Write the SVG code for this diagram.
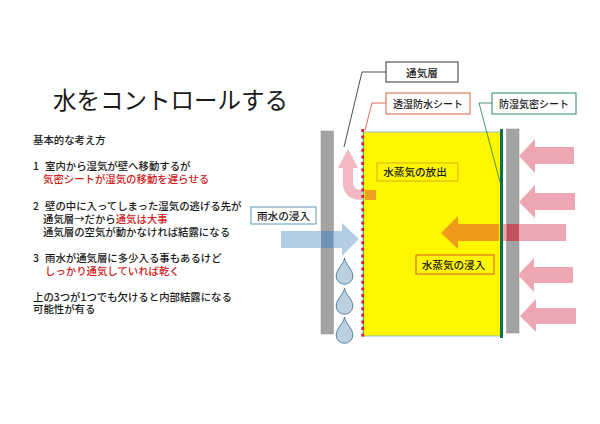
<svg xmlns="http://www.w3.org/2000/svg" width="600" height="424" viewBox="0 0 600 424">
<style>
text{font-family:"Noto Sans CJK JP","Noto Sans",sans-serif;font-size:10.4px;font-weight:500;fill:#1a1a1a}
.r{fill:#d0211c}
.lb{font-size:10.6px;text-anchor:middle}
.b{fill:#fff;stroke-width:1}
.wall{fill:#a3a3a3;stroke:#8f8f8f;stroke-width:.5}
.pink{fill:#eea6b3}
.drop{fill:#bcd0e2;stroke:#2f6a8c;stroke-width:.8}
.ln{fill:none;stroke-width:.8}
</style>
<defs><path id="d" d="M0 -16C1 -9 8.300 -5 8.300 2A8.300 8.300 0 0 1 -8.300 2C-8.300 -5 -1 -9 0 -16Z"/></defs>
<rect width="600" height="424" fill="#fff"/>
<g id="text">
<text x="53" y="109" style="font-size:23.500px;font-weight:400">水をコントロールする</text>
<text x="33" y="144">基本的な考え方</text>
<text x="33" y="170">1</text><text x="45" y="170">室内から湿気が壁へ移動するが</text>
<text x="43" y="183" class="r">気密シートが湿気の移動を遅らせる</text>
<text x="33" y="210">2</text><text x="45" y="210">壁の中に入ってしまった湿気の逃げる先が</text>
<text x="43" y="223">通気層→だから<tspan class="r">通気は大事</tspan></text>
<text x="43" y="236">通気層の空気が動かなければ結露になる</text>
<text x="33" y="262">3</text><text x="45" y="262">雨水が通気層に多少入る事もあるけど</text>
<text x="45" y="275" class="r">しっかり通気していれば乾く</text>
<text x="33" y="301">上の3つが1つでも欠けると内部結露になる</text>
<text x="33" y="313">可能性が有る</text>
</g>
<g id="yellow-layer"><rect x="363" y="132" width="138" height="204" fill="#fff700" stroke="#7fb0d0" stroke-width=".8"/></g>
<g id="wall-left"><rect class="wall" x="321" y="131" width="12.500" height="203"/></g>
<g id="wall-right"><rect class="wall" x="506.500" y="129" width="12.500" height="204"/></g>
<g id="arrow-up"><path fill="#f4b8c3" d="M348 149L358 168H353V182C353 187 356 190 362 190V200C350 200 343 194 343 183V168H338Z"/><rect x="365" y="190" width="11" height="10" fill="#ef9f1f"/></g>
<g id="pink-arrows">
<path class="pink" d="M574 147H535V139L519 156L535 173V164H574Z"/>
<path class="pink" d="M575 193H535V185L519 202L535 218V210H575Z"/>
<rect class="pink" x="503" y="224" width="63" height="17"/>
<path class="pink" d="M573 267H534V258L518 275L534 292V283H573Z"/>
<path class="pink" d="M576 308H536V299L520 316L536 332V324H576Z"/>
</g>
<g id="orange-arrow"><path fill="#ef9a1a" d="M499 224H458V216L441 233L458 249V241H499Z"/><rect x="506.500" y="224" width="12.500" height="17" fill="#c0525c"/></g>
<g id="rain-arrow"><path fill="#b5cde3" d="M281 231H342V223L359 239L342 256V248H281Z"/><rect x="321" y="231" width="12.500" height="17" fill="#6f93b5"/></g>
<g id="drops" class="drop">
<use href="#d" x="344.500" y="274"/><use href="#d" x="344.500" y="304"/><use href="#d" x="344.500" y="333"/>
</g>
<g id="sheet-green"><rect x="500" y="129" width="3" height="209" fill="#0e6e50"/></g>
<g id="sheet-red"><line x1="363.500" y1="130" x2="363.500" y2="337" stroke="#3a9a70" stroke-width=".8"/><line x1="362.700" y1="129" x2="362.700" y2="337" stroke="#e21f26" stroke-width="2.800" stroke-dasharray="3 3.600"/></g>
<g id="connectors">
<path class="ln" stroke="#222" d="M386 72H362L344 147"/>
<path class="ln" stroke="#d8442c" d="M386 103H372L365 130"/>
<path class="ln" stroke="#1e7a50" d="M492 103H479L500 182"/>
</g>
<g id="n-vent"><rect class="b" stroke="#333" x="386" y="62" width="72" height="20"/><text class="lb" x="422" y="76.500">通気層</text></g>
<g id="n-breather"><rect class="b" stroke="#d8603c" x="386" y="93" width="84" height="21"/><text class="lb" x="428" y="107.500" style="font-size:10px">透湿防水シート</text></g>
<g id="n-barrier"><rect class="b" stroke="#2a8a60" x="492" y="93" width="84" height="21"/><text class="lb" x="534" y="107.500" style="font-size:10px">防湿気密シート</text></g>
<g id="n-release"><rect x="377" y="163" width="81" height="18" fill="#fff700" stroke="#c8a020" stroke-width=".8"/><text class="lb" x="415" y="176">水蒸気の放出</text></g>
<g id="n-ingress"><rect x="416" y="255" width="78" height="19" fill="#fff700" stroke="#d0303c" stroke-width=".8"/><text class="lb" x="453.500" y="268.500">水蒸気の浸入</text></g>
<g id="n-rain"><rect class="b" stroke="#5a9ab8" x="251" y="207" width="65" height="17"/><text class="lb" x="283.500" y="219.500">雨水の浸入</text></g>
</svg>
